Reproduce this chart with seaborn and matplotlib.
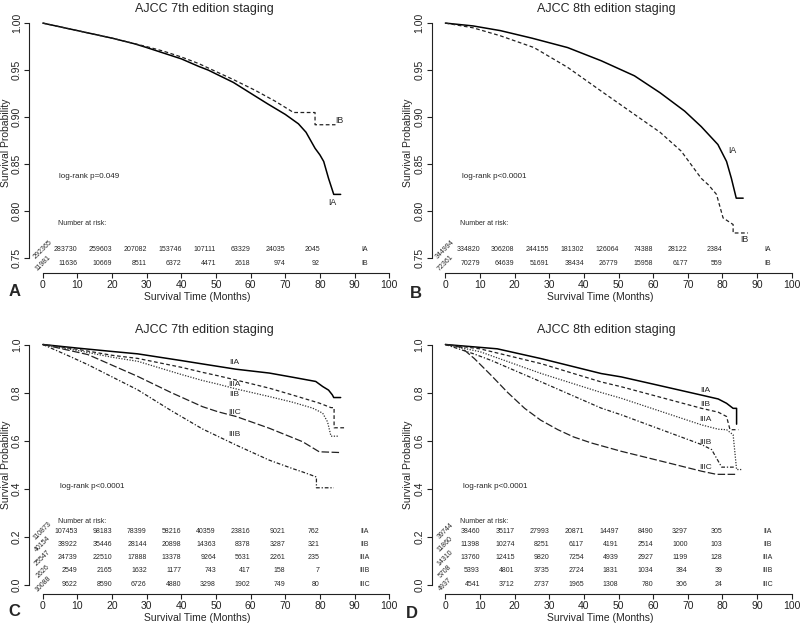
import matplotlib
matplotlib.use("Agg")
import matplotlib.pyplot as plt
from matplotlib.ticker import FormatStrFormatter
import seaborn as sns

# ---------------- curves ----------------
# A: AJCC 7th edition, stage I
a_ia_t = [0, 5, 10, 15, 20, 26.5, 30, 35, 40, 45, 47.8, 50, 55, 61.3, 65, 70, 73.8, 76, 78.6, 80, 81.1, 82.5, 84, 86]
a_ia_s = [1.0, 0.996, 0.992, 0.988, 0.984, 0.978, 0.974, 0.968, 0.962, 0.954, 0.950, 0.946, 0.937, 0.9225, 0.914,
          0.903, 0.893, 0.884, 0.867, 0.860, 0.853, 0.835, 0.818, 0.818]
a_ib_t = [0, 10, 20, 30, 35, 40, 45, 49.7, 55, 61.3, 67.1, 72.4, 78.6, 78.6, 84.5]
a_ib_s = [1.0, 0.992, 0.984, 0.975, 0.970, 0.964, 0.957, 0.949, 0.940, 0.9286, 0.917, 0.905, 0.905, 0.892, 0.892]

# B: AJCC 8th edition, stage I
b_ia_t = [0, 8, 15.9, 25, 35.3, 45, 54.6, 62, 69.1, 73.9, 78.7, 81.2, 82.6, 84, 86]
b_ia_s = [1.0, 0.997, 0.992, 0.984, 0.974, 0.960, 0.944, 0.926, 0.9065, 0.890, 0.871, 0.853, 0.835, 0.814, 0.814]
b_ib_t = [0, 8, 15.9, 25.6, 35.3, 44.9, 54.6, 62, 68.1, 73.9, 76, 78.3, 80.2, 83.1, 83.1, 87.4]
b_ib_s = [1.0, 0.995, 0.9865, 0.974, 0.953, 0.928, 0.903, 0.884, 0.864, 0.835, 0.828, 0.818, 0.793, 0.786, 0.777, 0.777]

# C: AJCC 7th edition, stage II-III
c_iia_t = [0, 10, 20, 27.4, 40, 46.1, 50.5, 55.8, 65.4, 72, 78.8, 80.8, 82.5, 83.6, 84, 86]
c_iia_s = [1.0, 0.985, 0.971, 0.961, 0.933, 0.919, 0.909, 0.897, 0.881, 0.864, 0.846, 0.825, 0.81, 0.79, 0.779, 0.779]
c_iiia_t = [0, 10, 20, 27.4, 40, 46.1, 50.5, 55.8, 65.4, 72, 79.8, 83.2, 84.1, 84.1, 87]
c_iiia_s = [1.0, 0.98, 0.955, 0.942, 0.905, 0.884, 0.870, 0.852, 0.818, 0.79, 0.756, 0.737, 0.737, 0.653, 0.653]
c_iib_t = [0, 10, 20, 27.4, 40, 46.1, 50.5, 55.8, 65.4, 72, 77.9, 80.8, 82.2, 83.2, 85.6]
c_iib_s = [1.0, 0.975, 0.947, 0.93, 0.875, 0.850, 0.835, 0.815, 0.783, 0.76, 0.735, 0.714, 0.678, 0.618, 0.618]
c_iiic_t = [0, 13, 27.4, 37, 46.1, 50.5, 55.8, 65.4, 75, 79.8, 85.6]
c_iiic_s = [1.0, 0.958, 0.867, 0.80, 0.741, 0.72, 0.70, 0.651, 0.595, 0.553, 0.550]
c_iiib_t = [0, 7.7, 13, 27.4, 37, 46.1, 55.8, 65.4, 72.1, 75, 79, 79, 84]
c_iiib_s = [1.0, 0.951, 0.916, 0.811, 0.725, 0.648, 0.581, 0.518, 0.483, 0.469, 0.448, 0.403, 0.403]

# D: AJCC 8th edition, stage II-III
d_iia_t = [0, 8.4, 15, 27.7, 45, 50.8, 60, 74, 78.8, 81.2, 83.1, 84.1, 84.1]
d_iia_s = [1.0, 0.99, 0.982, 0.941, 0.879, 0.865, 0.835, 0.789, 0.773, 0.755, 0.734, 0.734, 0.668]
d_iib_t = [0, 10, 27.7, 45, 50.8, 74, 78.8, 81.2, 82.2, 84.6]
d_iib_s = [1.0, 0.982, 0.920, 0.844, 0.824, 0.734, 0.718, 0.70, 0.645, 0.645]
d_iiia_t = [0, 10, 27.7, 45, 50.8, 74, 78.8, 81.2, 83.1, 84.1, 85.5]
d_iiia_s = [1.0, 0.97, 0.879, 0.80, 0.776, 0.665, 0.647, 0.645, 0.624, 0.479, 0.479]
d_iiib_t = [0, 8.4, 13.2, 27.7, 45, 50.8, 74, 76.9, 78.8, 79.8, 83.7]
d_iiib_s = [1.0, 0.96, 0.934, 0.844, 0.735, 0.707, 0.583, 0.562, 0.514, 0.489, 0.489]
d_iiic_t = [0, 4.5, 8.4, 13.2, 18, 22.9, 27.5, 32.5, 37, 42.1, 50.8, 64.3, 74, 78.3, 84]
d_iiic_s = [1.0, 0.989, 0.941, 0.872, 0.80, 0.734, 0.685, 0.645, 0.615, 0.59, 0.555, 0.507, 0.472, 0.459, 0.459]

# ---------------- number at risk (months 0, 10, ..., 80) ----------------
risk_months = [0, 10, 20, 30, 40, 50, 60, 70, 80]
a_risk_ia = [292365, 283730, 259603, 207082, 153746, 107111, 63329, 24035, 2045]
a_risk_ib = [11981, 11636, 10669, 8511, 6372, 4471, 2618, 974, 92]
b_risk_ia = [344994, 334820, 306208, 244155, 181302, 126064, 74388, 28122, 2384]
b_risk_ib = [72361, 70279, 64639, 51691, 38434, 26779, 15958, 6177, 559]
c_risk_iia = [110873, 107453, 98183, 78399, 58216, 40359, 23816, 9021, 762]
c_risk_iib = [40154, 38922, 35446, 28144, 20898, 14363, 8378, 3287, 321]
c_risk_iiia = [25547, 24739, 22510, 17888, 13378, 9264, 5631, 2261, 235]
c_risk_iiib = [2626, 2549, 2165, 1632, 1177, 743, 417, 158, 7]
c_risk_iiic = [10088, 9622, 8590, 6726, 4880, 3298, 1902, 749, 80]
d_risk_iia = [39744, 38460, 35117, 27993, 20871, 14497, 8490, 3297, 305]
d_risk_iib = [11860, 11398, 10274, 8251, 6117, 4191, 2514, 1000, 103]
d_risk_iiia = [14310, 13760, 12415, 9820, 7254, 4939, 2927, 1199, 128]
d_risk_iiib = [5708, 5393, 4801, 3735, 2724, 1831, 1034, 384, 39]
d_risk_iiic = [4937, 4541, 3712, 2737, 1965, 1308, 780, 306, 24]

sns.set_theme(style="ticks")
plt.rcParams["font.family"] = ["Liberation Sans", "DejaVu Sans"]

# line styles (R lty look)
SOLID = dict(color="black", linewidth=1.1, linestyle="-")
DASH = dict(color="#222222", linewidth=0.9, linestyle=(0, (3, 2)))
DOT = dict(color="#333333", linewidth=0.9, linestyle=(0, (1, 1.2)))
DASHDOT = dict(color="#222222", linewidth=0.9, linestyle=(0, (3, 1.5, 1, 1.5)))
LONGDASH = dict(color="#222222", linewidth=0.9, linestyle=(0, (6, 2)))

W, H = 800, 626
fig = plt.figure(figsize=(W / 100, H / 100), dpi=100)


def make_ax(left_px, bottom_px):
    return fig.add_axes([left_px / W, 1 - bottom_px / H, 374 / W, 259.2 / H])


def style_ax(ax, ylim, yticks, yfmt, title):
    ax.set_xlim(-4, 104)
    ax.set_ylim(*ylim)
    ax.set_xticks(range(0, 101, 10))
    ax.set_yticks(yticks)
    ax.yaxis.set_major_formatter(FormatStrFormatter(yfmt))
    for s in ["top", "right"]:
        ax.spines[s].set_visible(False)
    ax.spines["left"].set_bounds(yticks[0], yticks[-1])
    ax.spines["bottom"].set_bounds(0, 100)
    for s in ["left", "bottom"]:
        ax.spines[s].set_linewidth(0.8)
        ax.spines[s].set_color("#222222")
    ax.tick_params(axis="both", length=3.5, width=0.8, pad=1.5, labelsize=7.5, colors="#222222")
    for lab in ax.get_yticklabels():
        lab.set_rotation(90)
        lab.set_va("center")
    ax.set_xlabel("Survival Time (Months)", fontsize=7.5)
    ax.xaxis.set_label_coords(0.45, -0.092)
    ax.xaxis.label.set_va("center")
    ax.set_ylabel("Survival Probability", fontsize=7.5)
    ax.yaxis.set_label_coords(-0.062, 0.5)
    ax.yaxis.label.set_va("center")
    ax.text(0.468, 1.007, title, transform=ax.transAxes, ha="center", va="baseline", fontsize=9)


def risk_table(ax, rows, names, header_y, row_y0, step):
    tr = ax.get_xaxis_transform()
    ax.text(4.3, header_y, "Number at risk:", transform=tr, fontsize=5, ha="left", va="center")
    for i, (vals, name) in enumerate(zip(rows, names)):
        y = row_y0 - i * step
        ax.text(risk_months[0], y, str(vals[0]), transform=tr, fontsize=5, rotation=45,
                ha="center", va="center", rotation_mode="anchor")
        for m, v in zip(risk_months[1:], vals[1:]):
            ax.text(m, y, str(v), transform=tr, fontsize=5, ha="right", va="center")
        ax.text(93, y, name, transform=tr, fontsize=5, ha="center", va="center")


# ---------------- A ----------------
ax = make_ax(29, 272.7)
sns.lineplot(x=a_ia_t, y=a_ia_s, ax=ax, estimator=None, sort=False, **SOLID)
sns.lineplot(x=a_ib_t, y=a_ib_s, ax=ax, estimator=None, sort=False, **DASH)
style_ax(ax, (0.7348, 1.0102), [0.75, 0.80, 0.85, 0.90, 0.95, 1.00], "%.2f", "AJCC 7th edition staging")
ax.text(85.5, 0.897, "IB", fontsize=6.3, ha="center", va="center")
ax.text(83.6, 0.809, "IA", fontsize=6.3, ha="center", va="center")
ax.text(4.8, 0.370, "log-rank p=0.049", transform=ax.get_xaxis_transform(), fontsize=5.8, va="center")
risk_table(ax, [a_risk_ia, a_risk_ib], ["IA", "IB"], 0.1906, 0.0876, 0.0513)

# ---------------- B ----------------
ax = make_ax(431.5, 272.7)
sns.lineplot(x=b_ia_t, y=b_ia_s, ax=ax, estimator=None, sort=False, **SOLID)
sns.lineplot(x=b_ib_t, y=b_ib_s, ax=ax, estimator=None, sort=False, **DASH)
style_ax(ax, (0.7348, 1.0102), [0.75, 0.80, 0.85, 0.90, 0.95, 1.00], "%.2f", "AJCC 8th edition staging")
ax.text(81.6, 0.865, "IA", fontsize=6.3, ha="left", va="center")
ax.text(86.3, 0.770, "IB", fontsize=6.3, ha="center", va="center")
ax.text(4.8, 0.370, "log-rank p<0.0001", transform=ax.get_xaxis_transform(), fontsize=5.8, va="center")
risk_table(ax, [b_risk_ia, b_risk_ib], ["IA", "IB"], 0.1906, 0.0876, 0.0513)

stage_names = ["IIA", "IIB", "IIIA", "IIIB", "IIIC"]

# ---------------- C ----------------
ax = make_ax(29, 594.1)
sns.lineplot(x=c_iia_t, y=c_iia_s, ax=ax, estimator=None, sort=False, **SOLID)
sns.lineplot(x=c_iiia_t, y=c_iiia_s, ax=ax, estimator=None, sort=False, **DASH)
sns.lineplot(x=c_iib_t, y=c_iib_s, ax=ax, estimator=None, sort=False, **DOT)
sns.lineplot(x=c_iiic_t, y=c_iiic_s, ax=ax, estimator=None, sort=False, **LONGDASH)
sns.lineplot(x=c_iiib_t, y=c_iiib_s, ax=ax, estimator=None, sort=False, **DASHDOT)
style_ax(ax, (-0.04, 1.04), [0.0, 0.2, 0.4, 0.6, 0.8, 1.0], "%.1f", "AJCC 7th edition staging")
for name, y in zip(["IIA", "IIIA", "IIB", "IIIC", "IIIB"], [0.923, 0.832, 0.79, 0.718, 0.623]):
    ax.text(55.3, y, name, fontsize=6, ha="center", va="center")
ax.text(5.0, 0.414, "log-rank p<0.0001", transform=ax.get_xaxis_transform(), fontsize=5.8, va="center")
risk_table(ax, [c_risk_iia, c_risk_iib, c_risk_iiia, c_risk_iiib, c_risk_iiic], stage_names,
           0.281, 0.2434, 0.0514)

# ---------------- D ----------------
ax = make_ax(431.5, 594.1)
sns.lineplot(x=d_iia_t, y=d_iia_s, ax=ax, estimator=None, sort=False, **SOLID)
sns.lineplot(x=d_iib_t, y=d_iib_s, ax=ax, estimator=None, sort=False, **DASH)
sns.lineplot(x=d_iiia_t, y=d_iiia_s, ax=ax, estimator=None, sort=False, **DOT)
sns.lineplot(x=d_iiib_t, y=d_iiib_s, ax=ax, estimator=None, sort=False, **DASHDOT)
sns.lineplot(x=d_iiic_t, y=d_iiic_s, ax=ax, estimator=None, sort=False, **LONGDASH)
style_ax(ax, (-0.04, 1.04), [0.0, 0.2, 0.4, 0.6, 0.8, 1.0], "%.1f", "AJCC 8th edition staging")
for name, y in zip(stage_names, [0.81, 0.748, 0.686, 0.59, 0.489]):
    ax.text(75.1, y, name, fontsize=6, ha="center", va="center")
ax.text(5.0, 0.414, "log-rank p<0.0001", transform=ax.get_xaxis_transform(), fontsize=5.8, va="center")
risk_table(ax, [d_risk_iia, d_risk_iib, d_risk_iiia, d_risk_iiib, d_risk_iiic], stage_names,
           0.281, 0.2434, 0.0514)

# panel letters
for letter, (px, py) in zip("ABCD", [(15, 291), (416, 293), (14, 612), (412, 614)]):
    fig.text(px / W, 1 - py / H, letter, fontsize=12, fontweight="bold", ha="center", va="center")

fig.savefig("out.png", dpi=100, facecolor="white")
